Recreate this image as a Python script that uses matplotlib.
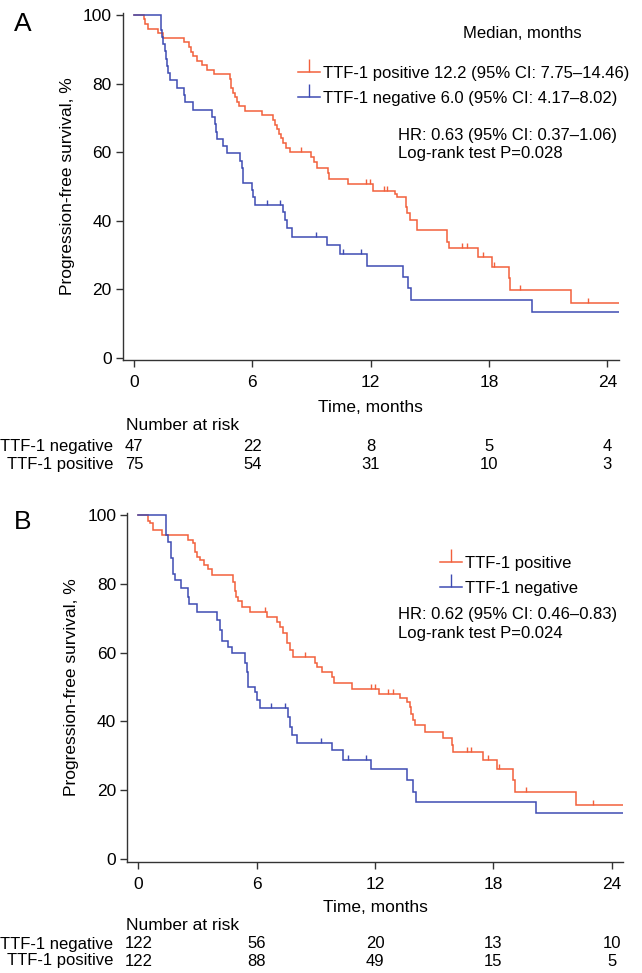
"""Kaplan-Meier PFS by TTF-1 status, two panels with number-at-risk tables."""

import matplotlib
matplotlib.use("Agg")
import matplotlib.pyplot as plt
import numpy as np
from matplotlib.lines import Line2D
from matplotlib.markers import MarkerStyle
from matplotlib.path import Path
from matplotlib.transforms import blended_transform_factory

plt.rcParams.update({
    "font.family": ["Liberation Sans", "DejaVu Sans"],
    "font.size": 12,
    "axes.spines.top": False, "axes.spines.right": False,
})

W, H = 642, 973
RED = "#f2603c"
BLUE = "#3e4cb3"
AXC = "#333333"
T_END = 24.6

# ---- panel A ----
a_pos_times = [0.51, 0.57, 0.73, 1.23, 1.49, 2.53, 2.80, 2.87, 2.97, 3.20, 3.43, 3.68, 4.05,
               4.87, 4.90, 4.93, 5.00, 5.10, 5.20, 5.30, 5.62, 6.50, 7.03, 7.14, 7.25, 7.35,
               7.45, 7.55, 7.70, 7.90, 8.97, 9.12, 9.30, 9.86, 9.91, 10.87, 12.14, 13.24,
               13.32, 13.79, 13.85, 14.00, 14.35, 15.85, 15.95, 17.46, 18.14, 19.02, 19.08, 22.14]
a_pos_surv = [98.7, 97.3, 96.0, 94.7, 93.3, 92.0, 90.7, 89.3, 88.0, 86.7, 85.3, 84.0, 82.7,
              81.3, 80.0, 78.7, 77.3, 76.0, 74.7, 73.3, 72.0, 70.7, 69.3, 68.0, 66.7, 65.3,
              64.0, 62.7, 61.3, 60.0, 58.7, 57.2, 55.4, 53.8, 52.0, 50.6, 48.7, 47.9,
              47.0, 44.1, 42.1, 40.2, 37.3, 33.8, 31.9, 29.3, 26.4, 23.2, 19.8, 15.9]
a_pos_cens = [8.45, 11.77, 11.97, 12.65, 12.85, 16.62, 16.87, 17.71, 18.24, 19.57, 23.04]

a_neg_times = [1.35, 1.38, 1.40, 1.49, 1.55, 1.62, 1.69, 1.74, 1.82, 2.16, 2.55, 2.58, 3.01,
               3.94, 4.10, 4.16, 4.20, 4.53, 4.70, 5.37, 5.46, 5.51, 5.54, 5.96, 6.05, 6.13,
               7.53, 7.65, 7.74, 7.99, 9.76, 10.44, 11.80, 13.62, 13.91, 14.03, 20.17]
a_neg_surv = [97.9, 95.7, 93.6, 91.5, 89.4, 87.2, 85.1, 83.0, 80.9, 78.7, 76.6, 74.5, 72.3,
              70.2, 68.1, 66.0, 63.8, 61.7, 59.6, 57.4, 55.3, 53.2, 51.1, 48.9, 46.8, 44.7,
              42.6, 40.2, 37.7, 35.3, 32.9, 30.4, 26.9, 23.6, 20.2, 16.8, 13.4]
a_neg_cens = [6.72, 7.40, 9.22, 10.58, 11.51]

a_risk_neg = [47, 22, 8, 5, 4]
a_risk_pos = [75, 54, 31, 10, 3]

# ---- panel B ----
b_pos_times = [0.51, 0.59, 0.73, 1.18, 2.54, 2.79, 2.87, 2.96, 3.13, 3.33, 3.55, 3.72, 4.82,
               4.90, 4.97, 5.05, 5.24, 5.66, 6.51, 7.01, 7.18, 7.35, 7.52, 7.69, 7.86, 8.96,
               9.04, 9.30, 9.80, 9.92, 10.82, 12.22, 13.27, 13.60, 13.78, 13.85, 13.95, 14.03,
               14.54, 15.47, 15.89, 15.94, 17.50, 18.17, 19.02, 19.08, 22.19]
b_pos_surv = [98.4, 97.6, 95.7, 94.2, 92.7, 91.8, 89.3, 87.9, 86.9, 85.5, 84.2, 82.6, 80.5,
              78.0, 76.2, 75.0, 73.4, 71.9, 70.4, 69.0, 67.5, 65.6, 62.7, 60.8, 58.8, 57.1,
              55.9, 54.5, 53.0, 51.3, 49.4, 47.9, 46.7, 45.6, 44.2, 42.3, 40.5, 39.0,
              37.0, 35.1, 33.1, 31.2, 28.8, 26.1, 23.0, 19.6, 15.7]
b_pos_cens = [6.40, 8.45, 11.78, 12.00, 12.68, 12.93, 16.65, 16.85, 17.75, 18.29, 19.66, 23.07]

b_neg_times = [1.40, 1.52, 1.64, 1.77, 1.86, 2.15, 2.54, 2.58, 2.96, 3.97, 4.14, 4.23, 4.56,
               4.73, 5.41, 5.49, 5.58, 5.92, 6.00, 6.17, 7.61, 7.69, 7.78, 8.03, 9.80, 10.40,
               11.80, 13.64, 13.95, 14.08, 20.17]
b_neg_surv = [94.2, 92.2, 87.4, 83.0, 81.1, 78.7, 76.3, 74.1, 71.9, 69.5, 66.6, 63.4, 61.7,
              59.8, 56.9, 54.5, 50.1, 48.6, 46.2, 43.8, 41.4, 38.5, 36.0, 33.6, 31.7, 28.8,
              26.1, 23.0, 19.6, 16.7, 13.3]
b_neg_cens = [6.71, 7.44, 9.25, 10.62, 11.55]

b_risk_neg = [122, 56, 20, 13, 10]
b_risk_pos = [122, 88, 49, 15, 5]

x_ticks = [0, 6, 12, 18, 24]
y_ticks = [0, 20, 40, 60, 80, 100]

UP_TICK = MarkerStyle(Path([(0, 0), (0, 1)]))


def fy(py):
    return 1 - py / H


def km(ax, times, surv, cens, color):
    t = np.r_[0.0, times, T_END]
    s = np.r_[100.0, surv, surv[-1]]
    ax.step(t, s, where="post", color=color, lw=1.1, solid_joinstyle="miter")
    idx = np.searchsorted(t, cens, side="right") - 1
    ax.plot(cens, s[idx], ls="none", marker=UP_TICK, ms=7.5, mec=color, mew=1.0)


def panel(fig, rect, xlim, ylim, pos, neg, risk_neg, risk_pos, legend_labels,
          leg_anchor, texts, rows_py, letter, letter_py):
    ax = fig.add_axes(rect)
    km(ax, *pos, RED)
    km(ax, *neg, BLUE)
    ax.set_xlim(*xlim)
    ax.set_ylim(*ylim)
    ax.set_xticks(x_ticks)
    ax.set_yticks(y_ticks)
    for sp in ("left", "bottom"):
        ax.spines[sp].set_color(AXC)
        ax.spines[sp].set_linewidth(1.0)
    ax.tick_params(direction="out", length=5, width=1.0, color=AXC, labelsize=12.5, pad=3)
    ax.tick_params(axis="x", pad=6)
    ax.set_ylabel("Progression-free survival, %", fontsize=12.5)
    ax.yaxis.set_label_coords(-0.112, 0.5)
    ax.yaxis.label.set_va("center")

    handles = [Line2D([], [], color=c, lw=1.1, marker=UP_TICK, ms=18.5, mec=c, mew=1.0)
               for c in (RED, BLUE)]
    ax.legend(handles, legend_labels, loc="upper left", bbox_to_anchor=leg_anchor,
              frameon=False, borderpad=0, borderaxespad=0, handlelength=1.32,
              handletextpad=0.2, labelspacing=0.6, fontsize=12, numpoints=1)
    for x, y, s in texts:
        ax.text(x, y, s, transform=ax.transAxes, ha="left", va="center", fontsize=12)

    # x label and number-at-risk table
    t_py, nar_py, neg_py, pos_py = rows_py
    fig.text(rect[0] + rect[2] / 2, fy(t_py), "Time, months", ha="center", va="center",
             fontsize=12.5)
    fig.text(126 / W, fy(nar_py), "Number at risk", ha="left", va="center", fontsize=12.5)
    fig.text(113 / W, fy(neg_py), "TTF-1 negative", ha="right", va="center", fontsize=12)
    fig.text(113 / W, fy(pos_py), "TTF-1 positive", ha="right", va="center", fontsize=12)
    tr = blended_transform_factory(ax.transData, fig.transFigure)
    for t, n1, n2 in zip(x_ticks, risk_neg, risk_pos):
        ax.text(t, fy(neg_py), str(n1), transform=tr, ha="center", va="center", fontsize=12)
        ax.text(t, fy(pos_py), str(n2), transform=tr, ha="center", va="center", fontsize=12)
    fig.text(23 / W, fy(letter_py), letter, ha="center", va="center", fontsize=19)
    return ax


def main():
    fig = plt.figure(figsize=(W / 100, H / 100), dpi=100)

    panel(fig, [122.7 / W, fy(360), 496.3 / W, 347 / H], (-0.573, 24.59), (-0.67, 100.58),
          (a_pos_times, a_pos_surv, a_pos_cens), (a_neg_times, a_neg_surv, a_neg_cens),
          a_risk_neg, a_risk_pos,
          ["TTF-1 positive 12.2 (95% CI: 7.75\u201314.46)",
           "TTF-1 negative 6.0 (95% CI: 4.17\u20138.02)"],
          (0.3532, 0.847),
          [(0.686, 0.941, "Median, months"),
           (0.554, 0.648, "HR: 0.63 (95% CI: 0.37\u20131.06)"),
           (0.554, 0.596, "Log-rank test P=0.028")],
          (407, 426, 446.5, 464), "A", 24)

    panel(fig, [127.3 / W, fy(861.7), 496 / W, 348.7 / H], (-0.558, 24.59), (-0.78, 100.6),
          (b_pos_times, b_pos_surv, b_pos_cens), (b_neg_times, b_neg_surv, b_neg_cens),
          b_risk_neg, b_risk_pos,
          ["TTF-1 positive", "TTF-1 negative"],
          (0.6304, 0.878),
          [(0.545, 0.7075, "HR: 0.62 (95% CI: 0.46\u20130.83)"),
           (0.545, 0.655, "Log-rank test P=0.024")],
          (908, 926, 944, 961), "B", 522)

    fig.savefig("out.png", dpi=100)
    plt.close(fig)


if __name__ == "__main__":
    main()
